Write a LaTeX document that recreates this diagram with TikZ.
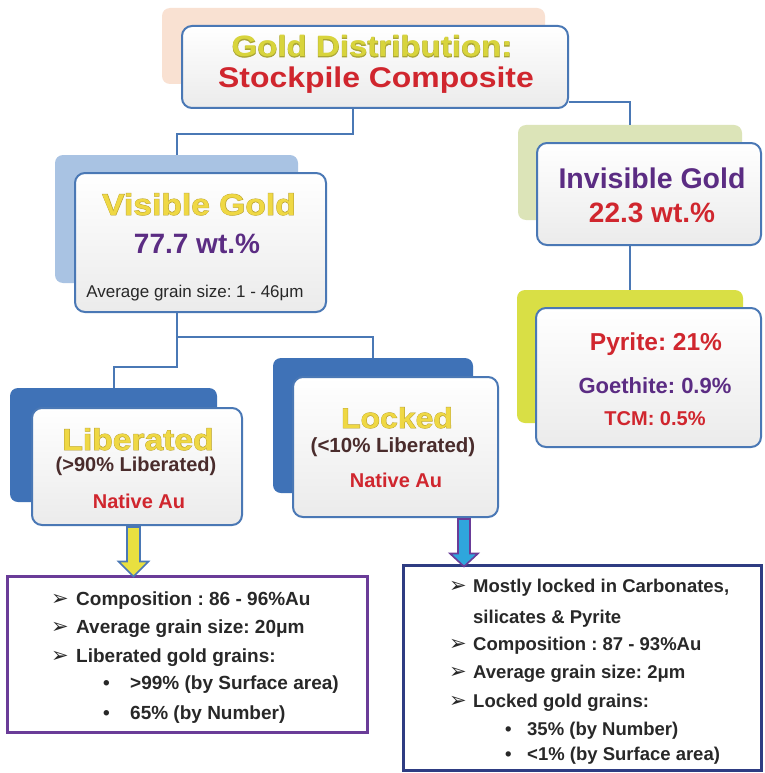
\documentclass[tikz,border=0pt]{standalone}
\usepackage{fontspec}
\setmainfont{Liberation Sans}
\newfontfamily\symfont{DejaVu Sans}
\newfontfamily\headfont{Liberation Sans}[FakeStretch=1.12]
\newfontfamily\headedge{Liberation Sans}[FakeStretch=1.12,FakeBold=2.5]
\usetikzlibrary{calc}
\frenchspacing

\definecolor{boxblue}{HTML}{4A78B5}
\definecolor{boxgray}{HTML}{EBEBEB}
\definecolor{peach}{HTML}{F9E1D2}
\definecolor{paleblue}{HTML}{A9C3E3}
\definecolor{paleolive}{HTML}{DCE4B8}
\definecolor{lime}{HTML}{D9DF45}
\definecolor{midblue}{HTML}{3F72B7}
\definecolor{listpurple}{HTML}{6A3C98}
\definecolor{listnavy}{HTML}{2E3C82}
\definecolor{arrowyellow}{HTML}{E8E040}
\definecolor{arrowcyan}{HTML}{2FA6DC}
\definecolor{goldyellow}{HTML}{EFD844}
\definecolor{goldedge}{HTML}{B9A234}
\definecolor{titleyellow}{HTML}{D8D43C}
\definecolor{titleedge}{HTML}{A9A436}
\definecolor{titlered}{HTML}{D0262E}
\definecolor{deeppurple}{HTML}{5B2C83}
\definecolor{darkbrown}{HTML}{4A2C2C}
\definecolor{listtext}{HTML}{282828}

% bold heading text with a darker rim
\newcommand\rimtext[4]{{\fontsize{#1}{#1}\selectfont\ooalign{\hfil\color{#3}\headedge\bfseries #4\hfil\cr\hfil\color{#2}\headfont\bfseries #4\hfil\cr}}}
\newcommand\sz[1]{\fontsize{#1}{#1}\selectfont}
\newcommand\pointer{{\symfont\sz{21}➢}}

\tikzset{
  backbox/.style={rounded corners=8pt, inner sep=0pt},
  frontbox/.style={draw=boxblue, line width=2pt, rounded corners=10pt,
    top color=white, bottom color=boxgray, inner sep=0pt},
  conn/.style={draw=boxblue, line width=2pt},
  listbox/.style={line width=3pt, fill=white, inner sep=0pt},
  txt/.style={anchor=base, inner sep=0pt, font=\bfseries},
  item/.style={anchor=base west, inner sep=0pt, font=\bfseries, text=listtext},
  blockarrow/.style={line width=1.6pt, line join=miter}
}

\begin{document}
\begin{tikzpicture}[x=1pt,y=-1pt]
\useasboundingbox (0,0) rectangle (764,773);
\fill[white] (0,0) rectangle (764,773);

% coloured plates behind the boxes
\node[backbox, fill=peach, minimum width=383pt, minimum height=76pt] (topback) at (353.5,46) {};
\node[backbox, fill=paleblue, minimum width=243pt, minimum height=128pt] (visback) at (176.5,219) {};
\node[backbox, fill=paleolive, minimum width=224pt, minimum height=95pt] (invback) at (630,172.5) {};
\node[backbox, fill=lime, minimum width=226pt, minimum height=133pt] (pyback) at (630,356.5) {};
\node[backbox, fill=midblue, minimum width=207pt, minimum height=114pt] (libback) at (113.5,445) {};
\node[backbox, fill=midblue, minimum width=200pt, minimum height=135pt] (lockback) at (373,425.5) {};

% junction points of the tree lines
\coordinate (j1) at (353,134);
\coordinate (j2) at (630,102);
\coordinate (j3) at (176.5,367);
\coordinate (j4) at (176.5,337);

% front boxes
\node[frontbox, minimum width=386pt, minimum height=82pt] (top) at (375,67) {};
\node[frontbox, minimum width=251pt, minimum height=139pt] (vis) at (200.5,242.5) {};
\node[frontbox, minimum width=224pt, minimum height=102pt] (inv) at (649,194) {};
\node[frontbox, minimum width=225pt, minimum height=139pt] (py) at (648.5,377.5) {};
\node[frontbox, minimum width=210pt, minimum height=117pt] (lib) at (137,466.5) {};
\node[frontbox, minimum width=205pt, minimum height=140pt] (lock) at (395.5,447) {};

% tree lines
\draw[conn] (top.south -| j1) -- (j1) -| (visback.north);
\draw[conn] (top.east |- j2) -- (j2) -- (invback.north);
\draw[conn] (inv.south -| invback.north) -- (pyback.north);
\draw[conn] (vis.south -| j3) -- (j3) -| (libback.north);
\draw[conn] (j4) -| (lockback.north);

% detail boxes
\node[listbox, draw=listpurple, minimum width=360pt, minimum height=156pt] (bl) at (187,654) {};
\node[listbox, draw=listnavy, minimum width=358pt, minimum height=205pt] (br) at (582,667.5) {};

% block arrows into the detail boxes
\path (lib.south -| 133.5,0) coordinate (ya) (bl.north -| 133.5,0) coordinate (yb);
\draw[blockarrow, fill=arrowyellow, draw=boxblue]
  ($(ya)+(-6.5,1)$) -- ($(yb)+(-6.5,-13)$) -- ($(yb)+(-15,-13)$) -- ($(yb)+(0,2)$)
  -- ($(yb)+(15,-13)$) -- ($(yb)+(6.5,-13)$) -- ($(ya)+(6.5,1)$) -- cycle;
\path (lock.south -| 464,0) coordinate (ba) (br.north -| 464,0) coordinate (bb);
\draw[blockarrow, fill=arrowcyan, draw=listpurple]
  ($(ba)+(-6,1)$) -- ($(bb)+(-6,-10)$) -- ($(bb)+(-14,-10)$) -- ($(bb)+(0,3)$)
  -- ($(bb)+(14,-10)$) -- ($(bb)+(6,-10)$) -- ($(ba)+(6,1)$) -- cycle;

% titles and figures
\node[txt] (topA) at (372,57) {\rimtext{29.5}{titleyellow}{titleedge}{Gold Distribution:}};
\node[txt, text=titlered] (topB) at (376,88) {\sz{28.5}\headfont\bfseries Stockpile Composite};

\node[txt] (visA) at (199,215) {\rimtext{30}{goldyellow}{goldedge}{Visible Gold}};
\node[txt, text=deeppurple] (visB) at (197,253) {\sz{28}77.7 wt.\%};
\node[txt, font=\mdseries, text=listtext] (visC) at (195,297) {\sz{17}Average grain size: 1 - 46μm};

\node[txt, text=deeppurple] (invA) at (652,188) {\sz{28.5}Invisible Gold};
\node[txt, text=titlered] (invB) at (652,222) {\sz{28}22.3 wt.\%};

\node[txt, text=titlered] (pyA) at (656,350) {\sz{24.5}Pyrite: 21\%};
\node[txt, text=deeppurple] (pyB) at (655,393) {\sz{22}Goethite: 0.9\%};
\node[txt, text=titlered] (pyC) at (655,425) {\sz{20}TCM: 0.5\%};

\node[txt] (libA) at (138,450) {\rimtext{30}{goldyellow}{goldedge}{Liberated}};
\node[txt, text=darkbrown] (libB) at (136,471) {\sz{20}(>90\% Liberated)};
\node[txt, text=titlered] (libC) at (139,508) {\sz{20}Native Au};

\node[txt] (lockA) at (397,428) {\rimtext{28.5}{goldyellow}{goldedge}{Locked}};
\node[txt, text=darkbrown] (lockB) at (393,452) {\sz{20.5}(<10\% Liberated)};
\node[txt, text=titlered] (lockC) at (396,487) {\sz{20}Native Au};

% liberated gold details
\node[item] (l1p) at (51,605) {\pointer};
\node[item] (l1) at (76,605) {\sz{19}Composition : 86 - 96\%Au};
\node[item] (l2p) at (51,633) {\pointer};
\node[item] (l2) at (76,633) {\sz{19}Average grain size: 20μm};
\node[item] (l3p) at (51,662) {\pointer};
\node[item] (l3) at (76,662) {\sz{19}Liberated gold grains:};
\node[item] (l4p) at (103,689) {\sz{19}•};
\node[item] (l4) at (130,689) {\sz{19}>99\% (by Surface area)};
\node[item] (l5p) at (103,719) {\sz{19}•};
\node[item] (l5) at (130,719) {\sz{19}65\% (by Number)};

% locked gold details
\node[item] (r1p) at (449,592) {\pointer};
\node[item] (r1) at (473,592) {\sz{18.5}Mostly locked in Carbonates,};
\node[item] (r1b) at (473,623) {\sz{18.5}silicates \& Pyrite};
\node[item] (r2p) at (449,650) {\pointer};
\node[item] (r2) at (473,650) {\sz{18.5}Composition : 87 - 93\%Au};
\node[item] (r3p) at (449,678) {\pointer};
\node[item] (r3) at (473,678) {\sz{18.5}Average grain size: 2μm};
\node[item] (r4p) at (449,707) {\pointer};
\node[item] (r4) at (473,707) {\sz{18.5}Locked gold grains:};
\node[item] (r5p) at (505,735) {\sz{18.5}•};
\node[item] (r5) at (527,735) {\sz{18.5}35\% (by Number)};
\node[item] (r6p) at (505,760) {\sz{18.5}•};
\node[item] (r6) at (527,760) {\sz{18.5}<1\% (by Surface area)};
\end{tikzpicture}
\end{document}
